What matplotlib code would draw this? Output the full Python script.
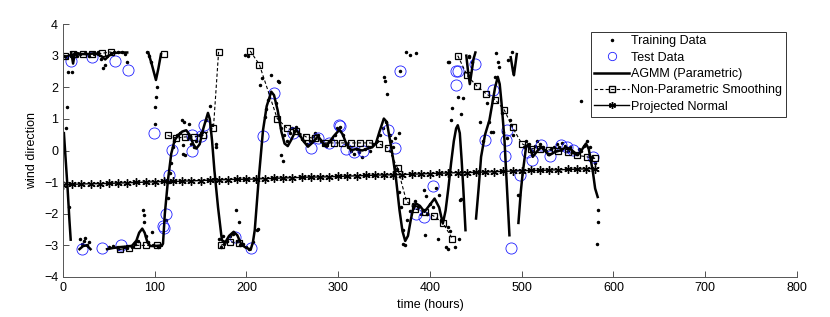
import numpy as np
import matplotlib
matplotlib.use("Agg")
import matplotlib.pyplot as plt
from matplotlib.lines import Line2D

plt.rcParams["font.family"] = ["Liberation Sans", "DejaVu Sans"]
plt.rcParams["font.size"] = 9

nan = np.nan

# training data (hours, wind direction in rad)
train_t = [1, 3, 4, 3, 6.5, 5.8, 10, 8, 12, 15, 18, 24, 28, 34, 38, 41, 44, 46, 48, 52,
           56, 60, 64, 68, 70, 92, 94, 96, 102, 101, 100.5, 100,
           19, 21, 23, 24, 26, 28, 50, 55, 60, 66, 70, 75, 78, 82, 87.5, 88, 88.5, 90,
           93, 96.6, 98, 104, 107,
           112, 114, 116, 117, 118, 120, 121, 124, 127, 129.6, 132, 137, 131, 133, 131,
           136, 140, 143, 145, 148, 152, 156, 159.8, 166.7, 167, 162,
           170, 172, 174, 176, 179, 182, 185, 188.8, 191.4, 190, 193, 196, 200, 203, 207,
           211.7, 212.4, 198.6, 201.7,
           214.6, 216.4, 219.7, 221, 223, 227, 234.5, 235, 232, 237.9, 239.8, 238, 241,
           244, 247, 250, 254, 257, 260, 263, 266, 269, 272, 275, 278, 281, 284, 287, 290,
           293, 296, 299, 302, 305, 308, 311, 314, 317, 320, 323, 326, 329, 332, 335, 338,
           342, 345, 349, 349.7, 350.8, 353.3, 352, 356, 358, 360, 362, 366.4,
           367, 374.4, 378, 385, 364, 366, 368, 370.7, 372.6, 371, 375, 378, 381, 384, 387,
           390, 393, 395.5, 394.3, 397, 400, 403, 406.6, 410, 409, 412, 417.6, 419.7,
           419.4, 421.6, 419.7, 421,
           423.7, 423, 430, 435.7, 434, 433, 434, 432, 427, 442.6, 443, 446, 454, 464.8,
           466.6, 468.7, 472, 474, 475, 471, 485.5, 489, 487, 488, 496, 497.5, 458, 462,
           478, 480, 484, 490,
           502, 505, 508, 511, 514, 517, 520, 523, 526, 529, 532, 535, 538, 541, 544, 547,
           550, 553, 556, 559, 562, 565, 568, 571, 574, 577, 580, 565, 582.8, 583, 582]
train_dir = [3.0, 2.95, 1.38, 0.7, -1.78, 2.49, 2.49, 3.02, 3.05, 2.98, 3.05, 3.08, 3.0,
             3.05, 3.1, 2.9, 2.6, 2.7, 3.0, 3.08,
             3.1, 3.1, 3.1, 3.05, 2.8, 3.12, 3.0, 2.8, 2.0, 1.68, 1.38, 0.85,
             -2.8, -2.95, -2.85, -2.78, -3.0, -2.9, -3.05, -3.02, -3.1, -3.05, -3.08, -3.04,
             -2.95, -2.85, -1.89, -2.05, -2.26, -2.7,
             -2.9, -2.58, -3.0, -3.05, -3.0,
             -2.2, -1.5, -1.0, -0.7, -0.41, 0.1, 0.3, 0.5, 0.55, 0.98, 0.91, 0.85, -0.1,
             -0.15, 0.17,
             0.4, 0.2, 0.1, 0.3, 0.5, 0.6, 0.95, 1.40, 0.22, 0.1, 0.8,
             -2.8, -3.05, -2.7, -2.95, -2.85, -2.7, -2.65, -1.89, -2.26, -2.85, -3.0, -2.95,
             -3.05, -3.1, -2.9,
             -2.52, -2.47, 3.02, 2.99,
             2.07, 2.28, 1.06, 1.3, 1.6, 2.38, 2.2, 2.17, 1.5, -0.15, -0.33, 0.7, 0.5,
             0.3, 0.55, 0.7, 0.75, 0.5, 0.35, 0.3, 0.2, 0.3, 0.45, 0.55, 0.5, 0.3, 0.2, 0.15,
             0.3,
             0.35, 0.5, 0.7, 0.75, 0.5, 0.2, 0.1, 0.0, -0.1, 0.05, -0.05, -0.2, 0.05, 0.1,
             0.0, 0.2,
             0.3, 0.5, 0.7, 2.33, 2.20, 1.78, 0.9, 0.5, 0.3, 0.1, 0.4, 0.56,
             2.51, 3.1, 3.02, 3.07, -0.6, -1.3, -1.8, -2.95, -3.0, -2.5, -2.2, -1.9, -1.7,
             -1.6, -1.8,
             -2.0, -1.26, -1.45, -2.68, -2.0, -1.7, -1.8, -1.2, -1.4, -2.79, -2.2, -3.05,
             -3.1, -2.41, -2.54, 2.81, 2.81,
             1.33, 0.98, 1.70, 1.65, 1.15, -1.55, -1.52, -2.79, -3.05, 2.96, 2.99, 2.8, 0.91,
             0.91, 0.59, 0.59, 3.09, 2.81, 2.65, 2.33, 2.86, 3.12, 0.96, 0.8, -1.41, -1.41,
             0.3, 1.5, 1.2, 0.6, 0.4, 0.5,
             0.1, 0.3, 0.2, 0.0, 0.15, 0.3, 0.2, 0.1, 0.0, -0.1, 0.05, 0.1, 0.2, 0.1, 0.25,
             0.15, 0.0, 0.1, -0.05, -0.1, 0.05, 0.0, 0.15, 0.3, 0.1, -0.2, -0.4, 1.57,
             -1.89, -2.26, -2.97]

# test data
test_t = [9, 32, 57, 71, 99, 21, 42, 63, 109.5, 110.5, 112.8, 115.3, 118.4, 141, 141,
          150.7, 154, 187, 205, 218.2, 230, 250.7, 270, 278, 289.5, 301.2, 302, 308.8,
          317.7, 326.8, 354.2, 361.5, 367.5, 385, 394, 403.2, 428.6, 431, 428.6, 449,
          468.5, 460.4, 484, 483.2, 481.3, 488.6, 498.2, 506, 511.5, 521.2, 531, 543.3,
          549, 555.8, 578]
test_dir = [2.82, 2.95, 2.84, 2.54, 0.56, -3.1, -3.08, -2.98, -2.4, -2.45, -2.0, -0.76,
            0.02, -0.02, 0.48, 0.45, 0.81, -2.74, -3.07, 0.46, 1.82, 0.56, 0.09, 0.41, 0.23,
            0.82, 0.76, 0.05, -0.04, -0.01, 0.65, 0.08, 2.52, -2.0, -2.1, -1.11, 2.5, 2.52,
            2.06, 2.75, 1.91, 0.33, 0.64, 0.33, -0.18, -3.08, -0.76, -0.06, -0.3, 0.18,
            -0.16, 0.17, 0.1, 0.03, -0.2]

# AGMM (parametric) mean, wrapped -> NaN where it jumps
agmm_t = [1, 3, 5, 7, 8.4, nan,
          9, 11, 13, 20, 28, 35, 42, 46, 50, 55, 62, 70, nan,
          18, 22, 26, 30, nan,
          93, 97, 101.3, 104, 106.8, nan,
          48, 55, 65, 75, 80, 83, 86.4, 89, 92, 95, 100, 107.5, 109, 111, 114.4, 118,
          121.7, 126, 130, 134.3, 138, 142, 145.3, 149, 153, 158, 160, 162.5, 165, 169,
          173.2, 177, 181, 186, 190, 194, 198, 204.5, 207, 209, 213.2, 218, 222, 227,
          230, 234, 238, 241.5, 245, 249, 254, 258, 262, 267, 272, 278, 282, 285.7, 290,
          295, 301.4, 305, 309, 314, 320, 326, 332, 337, 341, 345, 349.7, 353, 356, 359.5,
          363, 366.8, 370, 373, 376, 379, 381.3, 385, 389, 394, 399, 405, 410, 414, 417,
          420, 423, 426, 428.5, 430.3, 432.5, 434.5, 436.5, 438.7, nan,
          439.6, 441.5, 443.4, 445.5, 447.5, 449.5, nan,
          450.2, 453, 455.7, 460, 464.8, 468, 471, 473.9, 476, 478, 481.2, 484, 486.6, nan,
          488, 490.5, 491.5, 493, 494.6, nan,
          496.4, 499, 501, 504.7, 507, 510, 512, 516, 521, 525, 530, 536, 542.8, 548, 553,
          557, 561, 565, 570, 573, 577.3, 580, 582.8]
agmm_dir = [0.55, -0.3, -1.2, -2.2, -2.82, nan,
            3.1, 2.75, 3.1, 3.05, 3.05, 3.08, 2.98, 2.88, 3.0, 3.08, 3.1, 3.1, nan,
            -3.12, -3.02, -3.0, -3.12, nan,
            3.1, 2.7, 2.23, 2.6, 3.05, nan,
            -3.12, -3.08, -3.05, -3.02, -2.85, -2.6, -2.47, -2.6, -2.9, -3.02, -3.02, -3.0,
            -2.95, -2.0, -0.94, -0.1,
            0.33, 0.5, 0.6, 0.64, 0.5, 0.2, 0.06, 0.2, 0.7, 1.19, 1.0, 0.3, -0.62, -1.8,
            -2.84, -2.9, -2.7, -2.57, -2.68, -2.95, -3.05, -3.14, -2.9, -2.52, -0.94, 0.64,
            1.4, 1.86,
            1.75, 1.27, 0.6, 0.22, 0.14, 0.35, 0.66, 0.5, 0.3, 0.12, 0.25, 0.45, 0.3, 0.14,
            0.25,
            0.45, 0.66, 0.5, 0.2, 0.01, 0.05, 0.0, 0.06, 0.1, 0.22, 0.6, 1.01, 0.9, 0.4,
            -0.2,
            -0.9, -1.89, -2.55, -2.86, -2.7, -2.2, -1.89, -1.68, -1.75, -1.94, -1.75, -1.52,
            -1.8, -2.31, -1.9,
            -1.2, -0.4, 0.3, 0.7, 0.8, 0.55, -0.3, -1.3, -2.52, nan,
            3.0, 2.5, 2.1, 2.5, 2.9, 3.1, nan,
            -2.15, -1.2, -0.2, 0.5, 0.96, 1.5, 2.0, 2.33, 2.1, 1.5, 0.33, -1.2, -2.68, nan,
            2.95, 2.5, 2.38, 2.7, 3.05, nan,
            -2.29, -1.3, -0.73, 0.11, 0.2, 0.0, -0.2, -0.05, 0.11, 0.0, -0.15, -0.05, 0.01,
            0.1, 0.05,
            -0.05, -0.15, 0.0, 0.22, 0.05, -0.62, -1.2, -1.47]

# non-parametric smoothing
np_t = [2, 11, 22, 32, 42, 52, nan,
        62, 72, 81, 91, 102, nan,
        110.5, nan,
        114, 123.5, 133, 142.7, 152.5, 164, 169.6, nan,
        172, 181.6, 191.6, nan,
        204, 214, 233.5, 244.3, 254, 265, 274.8, 285.7, 295, 304, 314, 324, 334, 344,
        354.4, 364.6, 374.4, 384, 394.3, 404, 414, 424.5, nan,
        430.3, 440.4, 451, 461, 471, 481, 490, 500, 510, 520, 530, 540, 550, 560, 571, 580]
np_dir = [2.99, 3.04, 3.04, 3.05, 3.07, 3.12, nan,
          -3.13, -3.08, -3.0, -3.0, -3.0, nan,
          3.04, nan,
          0.48, 0.39, 0.43, 0.43, 0.48, 0.72, 3.12, nan,
          -3.0, -2.89, -2.92, nan,
          3.15, 2.72, 1.01, 0.70, 0.62, 0.43, 0.38, 0.24, 0.24, 0.24, 0.24, 0.24, 0.24,
          0.22, 0.08, -0.55, -1.6, -1.85, -1.94, -2.07, -2.29, -2.79, nan,
          3.0, 2.38, 2.04, 1.80, 1.61, 1.28, 0.73, 0.22, 0.06, 0.05, 0.02, 0.0, -0.05, -0.15,
          -0.2, -0.25]

# projected normal mean
pn_t = list(range(0, 590, 10))
pn_dir = [-1.08, -1.07, -1.06, -1.05, -1.05, -1.04, -1.03, -1.02, -1.01, -1.00,
          -0.99, -0.98, -0.98, -0.97, -0.96, -0.95, -0.94, -0.93, -0.92, -0.91,
          -0.91, -0.90, -0.89, -0.88, -0.87, -0.86, -0.85, -0.84, -0.84, -0.83,
          -0.82, -0.81, -0.80, -0.79, -0.78, -0.77, -0.77, -0.76, -0.75, -0.74,
          -0.73, -0.72, -0.71, -0.70, -0.70, -0.69, -0.68, -0.67, -0.66, -0.65,
          -0.64, -0.63, -0.63, -0.62, -0.61, -0.60, -0.59, -0.58, -0.57]

asterisk = (6, 2, 0)

fig = plt.figure(figsize=(8.3, 3.17), dpi=100)
ax = fig.add_axes([0.0759, 0.1262, 0.8843, 0.798])

ax.plot(train_t, train_dir, "k.", markersize=3, linestyle="none")
ax.plot(test_t, test_dir, "o", color="#2020ff", mfc="none", markersize=8,
        markeredgewidth=0.6, linestyle="none")
ax.plot(agmm_t, agmm_dir, "k-", linewidth=1.8)
ax.plot(np_t, np_dir, "k--s", linewidth=0.8, markersize=4.5, mfc="none",
        markeredgewidth=0.9, dashes=(3, 2))
ax.plot(pn_t, pn_dir, "k-", marker=asterisk, linewidth=1.0, markersize=6,
        markeredgewidth=1.0)

ax.set_xlim(0, 800)
ax.set_ylim(-4, 4)
ax.set_xticks(range(0, 801, 100))
ax.set_yticks(range(-4, 5))
ax.set_xlabel("time (hours)")
ax.set_ylabel("wind direction", labelpad=4)
for s in ["top", "right"]:
    ax.spines[s].set_visible(False)
for s in ["left", "bottom"]:
    ax.spines[s].set_color("#555555")
    ax.spines[s].set_linewidth(0.7)
ax.tick_params(direction="in", length=4, width=0.6, color="#333333", labelsize=9)

handles = [
    Line2D([], [], color="k", marker=".", markersize=3, linestyle="none"),
    Line2D([], [], color="#2020ff", marker="o", mfc="none", markersize=6,
           markeredgewidth=0.6, linestyle="none"),
    Line2D([], [], color="k", linewidth=1.8),
    Line2D([], [], color="k", linestyle="--", marker="s", mfc="none", markersize=4,
           linewidth=0.8, dashes=(3, 2)),
    Line2D([], [], color="k", marker=asterisk, markersize=5, linewidth=1.0),
]
labels = ["Training Data", "Test Data", "AGMM (Parametric)",
          "Non-Parametric Smoothing", "Projected Normal"]
leg = ax.legend(handles, labels, loc="upper right", bbox_to_anchor=(0.985, 0.97),
                fontsize=9, frameon=True, fancybox=False, framealpha=1,
                edgecolor="#333333", handlelength=2.8, handletextpad=0.15,
                labelspacing=0.35, borderpad=0.3, borderaxespad=0)
leg.get_frame().set_linewidth(0.7)

fig.savefig("out.png", dpi=100)
